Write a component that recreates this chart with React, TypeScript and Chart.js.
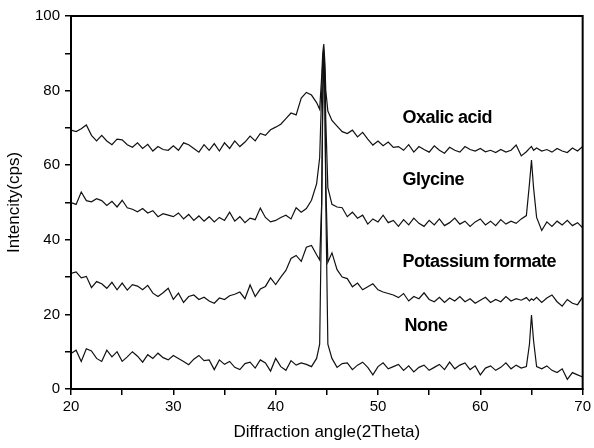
import React, { useEffect, useRef } from "react";
import { Chart, registerables } from "chart.js";

Chart.register(...registerables);

// Diffraction angle (2Theta) sample positions
const ANGLES = [
  20, 20.5, 21, 21.5, 22, 22.5, 23, 23.5, 24, 24.5, 25, 25.5, 26, 26.5, 27, 27.5, 28, 28.5, 29, 29.5,
  30, 30.5, 31, 31.5, 32, 32.5, 33, 33.5, 34, 34.5, 35, 35.5, 36, 36.5, 37, 37.5, 38, 38.5, 39, 39.5,
  40, 40.5, 41, 41.5, 42, 42.5, 43, 43.5, 44,
  44.3, 44.5, 44.6, 44.7, 44.8, 44.9, 45.1, 45.5,
  46, 46.5, 47, 47.5, 48, 48.5, 49, 49.5, 50, 50.5, 51, 51.5, 52, 52.5, 53, 53.5, 54, 54.5, 55, 55.5,
  56, 56.5, 57, 57.5, 58, 58.5, 59, 59.5, 60, 60.5, 61, 61.5, 62, 62.5, 63, 63.5, 64, 64.5,
  64.8, 65, 65.2,
  65.5, 66, 66.5, 67, 67.5, 68, 68.5, 69, 69.5, 70,
];

const OXALIC_ACID = [
  69.4, 69, 69.8, 70.8, 68, 66.5, 68, 66.5, 65.5, 67, 66.8, 65.5, 64.8, 66, 64.5, 65.6, 63.8, 65, 64.2, 64,
  65.2, 64, 66, 65.5, 64.5, 63.5, 65.5, 64, 65.8, 63.8, 66, 64.5, 66.5, 65, 66.2, 67.8, 66.5, 68.5, 68, 69.5,
  70.2, 71, 72.5, 74, 73.5, 78, 79.5, 78.8, 76.8,
  75, 84, 90, 92.5, 88, 80, 74.5, 72,
  70.5, 69, 68.5, 69.4, 67.6, 68.8, 67, 65.4, 66.5, 65.2, 66.2, 64.8, 65, 64, 65.5, 63.5, 65, 64.2, 63.5, 65.2,
  64, 63.2, 64.8, 64, 63.5, 65, 64.2, 63.8, 64.5, 63.6, 64, 63.4, 64.2, 63.5, 64, 65.4, 62.5, 63.6,
  64.5, 65, 64,
  64.6, 63.8, 64.2, 63.5, 64.5, 63.8, 63.4, 64.6, 63.8, 65,
];

const GLYCINE = [
  50, 49.5, 52.8, 50.5, 50.2, 51, 50.5, 49.2, 50.3, 48.8, 50.6, 48.6, 48.2, 47.5, 48.4, 47.2, 47.8, 46.2, 47, 46.6,
  46.2, 47.2, 45.6, 46.8, 45.2, 46.4, 45, 46.2, 44.8, 46, 45.2, 47.4, 45, 46.2, 44.6, 45.8, 45.4, 48.5, 46, 44.8,
  45.2, 46, 46.6, 45.6, 48.6, 47.4, 48.4, 50.6, 55,
  62, 80, 88, 91, 86, 72, 54, 49.5,
  48.8, 48.6, 46.2, 47.4, 45.8, 46.6, 44.2, 45.6, 44.8, 46.6, 44.6, 45.2, 43.6, 45.4, 44, 45.8, 44.4, 43.6, 45.2, 44,
  45.6, 43.8, 44.6, 45.8, 44.2, 45, 43.6, 44.8, 45.6, 44, 45, 43.8, 45.4, 44.2, 45, 44.4, 45.6, 46.5,
  55, 61.4, 54,
  46, 42.5, 44.8, 43.6, 45, 44, 45.2, 43.8, 44.6, 43.2,
];

const POTASSIUM_FORMATE = [
  31, 31.4, 29.8, 30.2, 27.2, 28.8, 28.2, 27, 28.6, 26.6, 28.4, 26.5, 28, 27.6, 26.6, 27.8, 25.7, 24.8, 25.8, 27,
  24, 25.7, 23.2, 24.8, 25.2, 24, 24.6, 23.6, 23, 24.4, 24, 25, 25.4, 26, 24.2, 27.9, 24.8, 26.8, 27.5, 29.8,
  28, 30, 31.8, 35, 35.8, 34.2, 38, 38.5, 36,
  34.6, 50, 75, 89, 80, 55, 34, 36.5,
  32, 30, 29.6, 27.4, 28.4, 26.6, 27.4, 28.2, 26.6, 26, 25.6, 25.2, 24.5, 25.6, 23.6, 24.8, 24.2, 25.8, 24, 23.4,
  24.6, 23.2, 24.4, 23.6, 24.8, 23.4, 24.2, 23, 23.8, 24.6, 23.2, 24, 23.4, 24.8, 23.6, 24.2, 23.8, 24.5,
  23.6, 24.2, 23.8,
  24.6, 23.2, 24.4, 25.2, 23.4, 22.2, 24, 23, 22.6, 24.7,
];

const NONE = [
  9.5, 10.4, 7.4, 10.8, 10.2, 8.2, 7.4, 10.4, 8.6, 10, 7.4, 8.6, 10, 8.8, 7.2, 9.2, 8.2, 9.6, 8.4, 7.8,
  9, 8.2, 7.4, 6.5, 8, 9, 7.6, 7.8, 5.2, 7.8, 6.6, 7.4, 5.8, 5.2, 6.8, 7.2, 5.6, 7.8, 7, 4.8,
  8.2, 6, 5, 7.6, 6.4, 7, 6.6, 6, 8.2,
  12, 50, 80, 90, 82, 50, 12, 8.2,
  5.8, 6.8, 7, 5.2, 6.4, 7.2, 5.8, 3.8, 6, 7, 5.4, 6, 6.6, 5, 6.2, 4.6, 5.8, 6.4, 5, 5.8,
  6.6, 5.2, 7.2, 5.4, 6.4, 7, 5.2, 6.2, 3.8, 5.6, 6.2, 5, 5.8, 7, 5.4, 6.4, 5.6, 6,
  12, 19.8, 13,
  6, 5.4, 6.2, 5, 4.4, 5.4, 2.6, 4.4, 3.8, 3.2,
];

const SERIES_NAMES = ["Oxalic acid", "Glycine", "Potassium formate", "None"];
const SERIES_VALUES = [OXALIC_ACID, GLYCINE, POTASSIUM_FORMATE, NONE];
const LABEL_X = [52.4, 52.4, 52.4, 52.6];
const LABEL_Y = [72.7, 56, 34, 16.9];

const X_TITLE = "Diffraction angle(2Theta)";
const Y_TITLE = "Intencity(cps)";

const FONT = '"Liberation Sans", Arial, Helvetica, sans-serif';

const framePlugin = {
  id: "frameAndLabels",
  afterDraw(chart: any) {
    const { ctx, chartArea: a } = chart;
    ctx.save();
    ctx.strokeStyle = "#000";
    ctx.lineWidth = 2;
    ctx.strokeRect(a.left, a.top, a.right - a.left, a.bottom - a.top);
    ctx.fillStyle = "#000";
    ctx.font = `bold 18px ${FONT}`;
    try {
      (ctx as any).letterSpacing = "-0.5px";
    } catch (e) {}
    ctx.textAlign = "left";
    ctx.textBaseline = "middle";
    SERIES_NAMES.forEach((name, i) => {
      const px = chart.scales.x.getPixelForValue(LABEL_X[i]);
      const py = chart.scales.y.getPixelForValue(LABEL_Y[i]);
      ctx.fillText(name, px, py);
    });
    ctx.restore();
  },
};

export default function App() {
  const canvasRef = useRef<HTMLCanvasElement | null>(null);

  useEffect(() => {
    if (!canvasRef.current) return;
    const datasets = SERIES_NAMES.map((name, i) => ({
      label: name,
      data: ANGLES.map((x, j) => ({ x, y: SERIES_VALUES[i][j] })),
      borderColor: "#111",
      borderWidth: 1.2,
      pointRadius: 0,
      tension: 0,
      fill: false,
    }));

    const chart = new Chart(canvasRef.current, {
      type: "line",
      data: { datasets },
      plugins: [framePlugin],
      options: {
        animation: false,
        responsive: true,
        maintainAspectRatio: false,
        layout: { padding: { left: 0, top: 16, right: 10, bottom: 0 } },
        plugins: {
          legend: { display: false },
          tooltip: { enabled: false },
        },
        scales: {
          x: {
            type: "linear",
            min: 20,
            max: 70,
            afterFit: (s: any) => {
              s.height = 59;
            },
            ticks: {
              stepSize: 5,
              autoSkip: false,
              maxRotation: 0,
              color: "#000",
              padding: 3,
              font: { family: FONT, size: 15 },
              callback: (v: any) => (Number(v) % 10 === 0 ? String(v) : ""),
            },
            grid: {
              drawOnChartArea: false,
              drawTicks: true,
              tickLength: 6,
              color: "#000",
              lineWidth: 1.5,
            },
            border: { display: true, color: "#000", width: 2 },
            title: {
              display: true,
              text: X_TITLE,
              color: "#000",
              font: { family: FONT, size: 17 },
              padding: { top: 0, bottom: 5 },
            },
          },
          y: {
            type: "linear",
            min: 0,
            max: 100,
            afterFit: (s: any) => {
              s.width = 71;
            },
            ticks: {
              stepSize: 10,
              autoSkip: false,
              color: "#000",
              padding: 5,
              font: { family: FONT, size: 15 },
              callback: (v: any) => (Number(v) % 20 === 0 ? String(v) : ""),
            },
            grid: {
              drawOnChartArea: false,
              drawTicks: true,
              tickLength: 6,
              color: "#000",
              lineWidth: 1.5,
            },
            border: { display: true, color: "#000", width: 2 },
            title: {
              display: true,
              text: Y_TITLE,
              color: "#000",
              font: { family: FONT, size: 17 },
              padding: { top: 4, bottom: 0 },
            },
          },
        },
      },
    });
    return () => chart.destroy();
  }, []);

  return (
    <div style={{ position: "fixed", left: 0, top: 0, width: 594, height: 448, background: "#fff" }}>
      <canvas ref={canvasRef} />
    </div>
  );
}
